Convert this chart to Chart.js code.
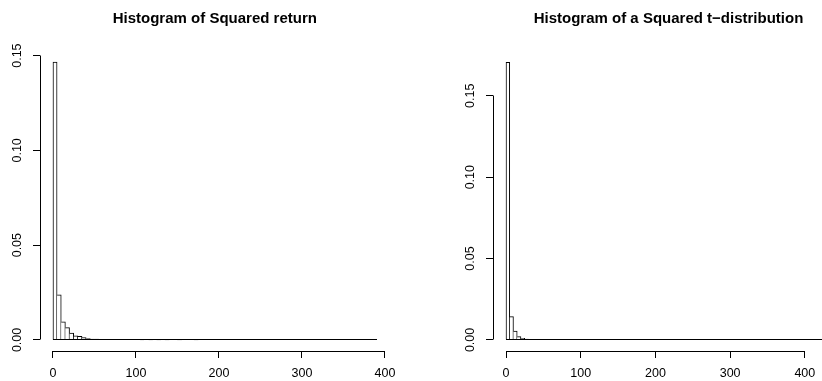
<!DOCTYPE html>
<html>
<head>
<meta charset="utf-8">
<script src="https://cdn.jsdelivr.net/npm/chart.js@4/dist/chart.umd.min.js"></script>
<style>
html, body { margin: 0; padding: 0; background: #fff; overflow: hidden; width: 822px; height: 381px; position: relative; }
canvas { position: absolute; top: 0; }
#c1 { left: 0; }
#c2 { left: 411px; }
</style>
</head>
<body>
<canvas id="c1" width="411" height="381"></canvas>
<canvas id="c2" width="433" height="381"></canvas>
<script>
// ---- data (densities, bins of width 5 starting at 0) ----
const binWidth = 5;

const squaredReturnDensity = [
  0.1466, 0.0238, 0.0096, 0.0065, 0.0036, 0.0022, 0.0019, 0.0012, 0.0007, 0.0005,
  0.0004, 0.0003, 0.0003, 0.0002, 0.0002, 0.0002, 0.0001, 0.0001, 0.0001, 0.0001,
  0.00008, 0.00005, 0.00008, 0.00005, 0.00003, 0.00005, 0.00003, 0.00005, 0.00003, 0.00003,
  0.00005, 0.00003, 0.00002, 0.00003, 0.00005, 0.00002, 0.00002, 0.00003, 0.00002, 0.00002,
  0, 0.00002, 0.00002, 0, 0.00002, 0, 0.00002, 0, 0, 0.00002,
  0, 0, 0.00002, 0, 0.00002, 0, 0, 0, 0.00002, 0,
  0, 0, 0, 0.00002, 0, 0, 0, 0, 0.00002, 0,
  0, 0, 0, 0, 0, 0, 0, 0.00002
];

const squaredTDensity = [
  0.1706, 0.0143, 0.0055, 0.0020, 0.0010, 0.0006, 0.0004, 0.0003, 0.0003, 0.0002,
  0.0002, 0.0001, 0.0001, 0.0001, 0.0001, 0.00008, 0.00005, 0.00005, 0.00005, 0.00003,
  0.00005, 0.00003, 0.00003, 0.00002, 0.00003, 0.00002, 0.00002, 0.00003, 0.00002, 0,
  0.00002, 0.00002, 0, 0.00002, 0, 0.00002, 0, 0.00002, 0, 0,
  0.00002, 0, 0, 0.00002, 0, 0, 0, 0.00002, 0, 0,
  0, 0.00002, 0, 0, 0, 0, 0.00002, 0, 0, 0,
  0, 0, 0.00002, 0, 0, 0, 0, 0, 0, 0.00002,
  0, 0, 0, 0, 0, 0, 0, 0, 0, 0,
  0, 0, 0, 0, 0, 0, 0.00002
];

const xTickValues = [0, 100, 200, 300, 400];
const xTickLabels = ['0', '100', '200', '300', '400'];
const yTickValues = [0, 0.05, 0.10, 0.15];
const yTickLabels = ['0.00', '0.05', '0.10', '0.15'];

const titleLeft = 'Histogram of Squared return';
const titleRight = 'Histogram of a Squared t\u2212distribution';

// ---- drawing ----
const FONT = "'Liberation Sans', Arial, Helvetica, sans-serif";

function binPoints(dens) {
  return dens.map((d, i) => ({ x: i * binWidth + binWidth / 2, y: d }));
}

function align(p) { return Math.round(p - 0.5) + 0.5; }

// each shared edge between two bins is drawn once, by the taller bin
function edgeWidths(ctx) {
  const arr = ctx.dataset.data;
  const i = ctx.dataIndex;
  const h = arr[i] ? arr[i].y : 0;
  const prev = i > 0 ? arr[i - 1].y : -1;
  const next = i < arr.length - 1 ? arr[i + 1].y : -1;
  return { left: h > prev ? 1 : 0, right: h >= next ? 1 : 0, top: 1, bottom: 0 };
}

const rStyle = {
  id: 'rStyle',
  afterLayout(chart) {
    const t = chart.titleBlock;
    if (t) {
      t.left = chart.chartArea.left;
      t.right = chart.chartArea.right;
      t.width = t.right - t.left;
    }
  },
  afterDraw(chart) {
    const { ctx, chartArea, scales: { x, y } } = chart;
    const nBins = chart.data.datasets[0].data.length;
    ctx.save();
    ctx.strokeStyle = '#000';
    ctx.lineWidth = 1;
    ctx.beginPath();
    const ax = align(chartArea.left);
    ctx.moveTo(ax, align(y.getPixelForValue(yTickValues[0])));
    ctx.lineTo(ax, align(y.getPixelForValue(yTickValues[yTickValues.length - 1])));
    const ay = align(chartArea.bottom);
    ctx.moveTo(x.getPixelForValue(xTickValues[0]), ay);
    ctx.lineTo(x.getPixelForValue(xTickValues[xTickValues.length - 1]), ay);
    const by = align(y.getPixelForValue(0));
    ctx.moveTo(x.getPixelForValue(0), by);
    ctx.lineTo(x.getPixelForValue(nBins * binWidth), by);
    ctx.stroke();
    ctx.restore();
  }
};

function makeChart(id, title, dens, xMin, xMax, yMin, yMax, yAxisWidth, padRight) {
  return new Chart(document.getElementById(id), {
    type: 'bar',
    data: {
      datasets: [{
        data: binPoints(dens),
        backgroundColor: '#ffffff',
        borderColor: '#000000',
        borderWidth: edgeWidths,
        borderSkipped: false,
        barPercentage: 1,
        categoryPercentage: 1
      }]
    },
    options: {
      responsive: false,
      animation: false,
      events: [],
      layout: { padding: { left: 0, right: padRight, top: 0, bottom: 0 } },
      plugins: {
        legend: { display: false },
        tooltip: { enabled: false },
        title: {
          display: true,
          text: title,
          color: '#000',
          font: { family: FONT, size: 15, weight: 'bold', lineHeight: 1.2 },
          padding: { top: 10, bottom: 24.2 }
        }
      },
      scales: {
        x: {
          type: 'linear',
          min: xMin,
          max: xMax,
          offset: false,
          grid: { display: true, offset: false, drawOnChartArea: false, drawTicks: true, tickLength: 7, color: '#000', lineWidth: 1 },
          border: { display: false },
          afterBuildTicks: s => { s.ticks = xTickValues.map(v => ({ value: v })); },
          afterFit: s => { s.height = 30; },
          ticks: {
            autoSkip: false,
            maxRotation: 0,
            minRotation: 0,
            padding: 8,
            color: '#000',
            font: { family: FONT, size: 12.5 },
            callback: v => xTickLabels[xTickValues.indexOf(v)]
          }
        },
        y: {
          type: 'linear',
          min: yMin,
          max: yMax,
          grid: { display: true, drawOnChartArea: false, drawTicks: true, tickLength: 7, color: '#000', lineWidth: 1 },
          border: { display: false },
          afterBuildTicks: s => { s.ticks = yTickValues.map(v => ({ value: v })); },
          afterFit: s => { s.width = yAxisWidth; },
          ticks: {
            autoSkip: false,
            minRotation: 90,
            maxRotation: 90,
            crossAlign: 'center',
            padding: 3,
            color: '#000',
            font: { family: FONT, size: 12.5 },
            callback: v => yTickLabels[yTickValues.indexOf(v)]
          }
        }
      }
    },
    plugins: [rStyle]
  });
}

makeChart('c1', titleLeft, squaredReturnDensity, -15.6, 405.6, -0.00584, 0.1518, 40, 21.4);
makeChart('c2', titleRight, squaredTDensity, -17.4, 452.4, -0.0068, 0.1768, 82, 0);
</script>
</body>
</html>
